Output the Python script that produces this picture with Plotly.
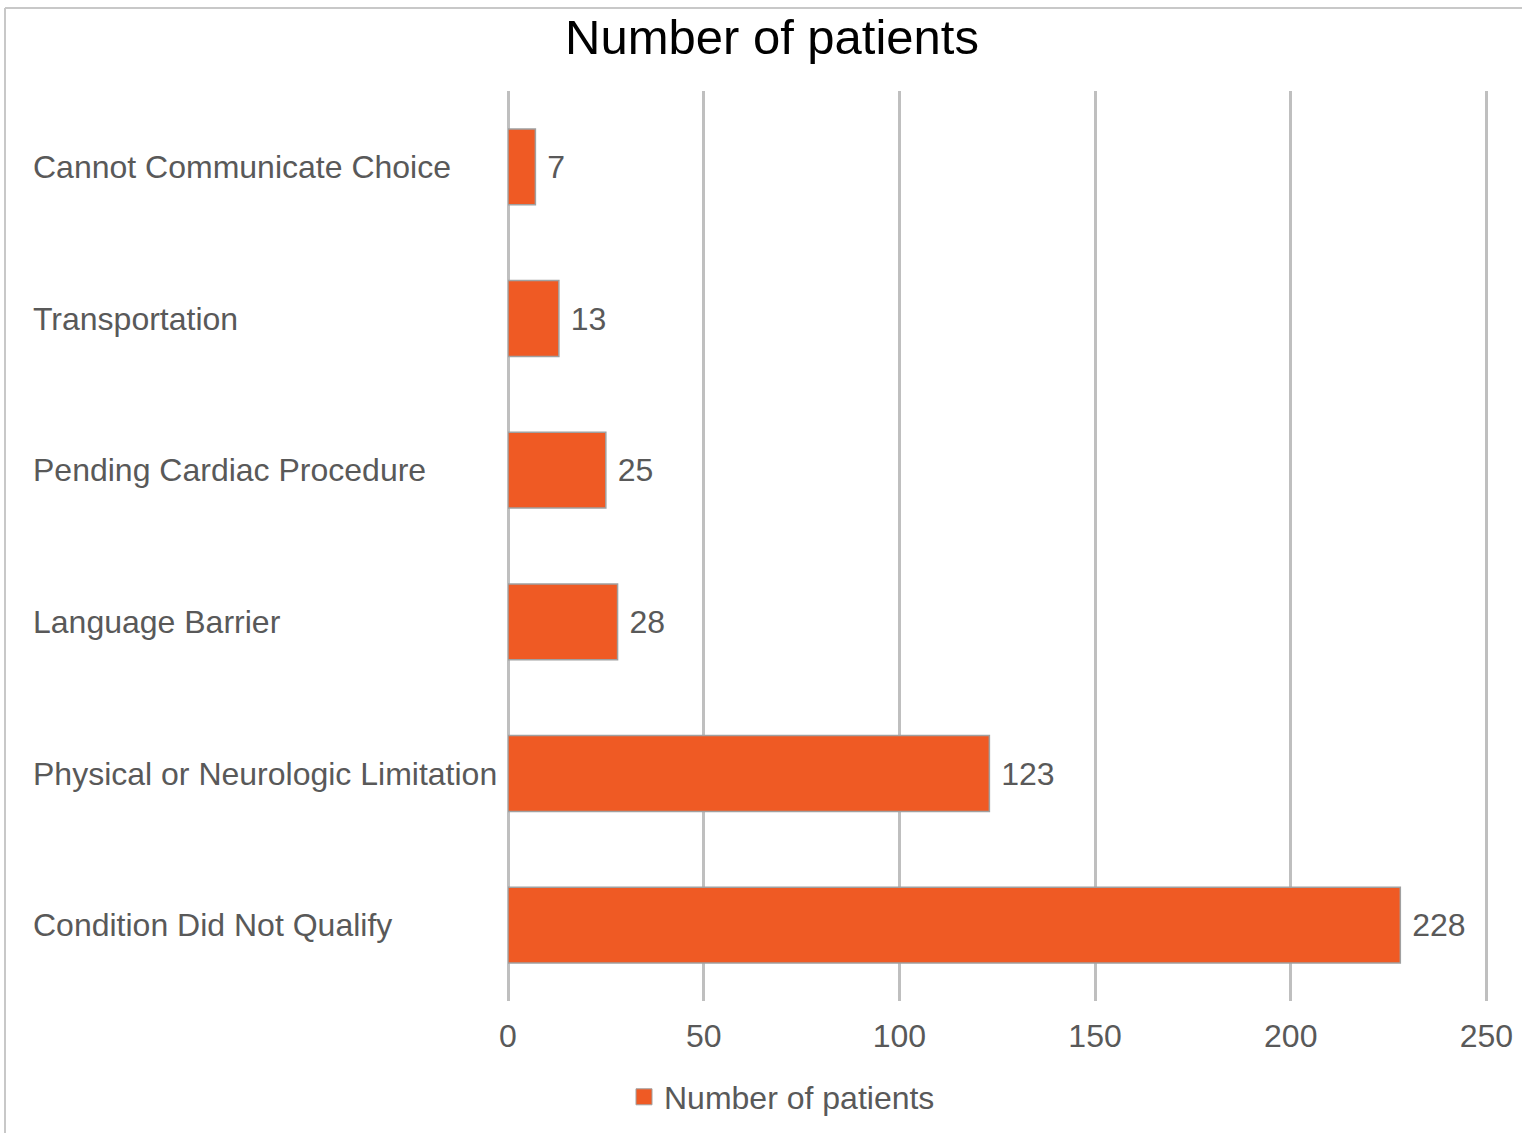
import plotly.graph_objects as go

# Reasons patients were not enrolled, listed top to bottom
categories = [
    "Cannot Communicate Choice",
    "Transportation",
    "Pending Cardiac Procedure",
    "Language Barrier",
    "Physical or Neurologic Limitation",
    "Condition Did Not Qualify",
]
patients = [7, 13, 25, 28, 123, 228]
x_ticks = [0, 50, 100, 150, 200, 250]

W, H = 1524, 1133
L, R, T, B = 508, 36, 91, 132
plot_w = W - L - R
plot_h = H - T - B

BAR = "#EF5A24"
LABEL = "#595959"
GRID = "#BFBFBF"
FONT = "Liberation Sans, Arial, sans-serif"
FS = 32

fig = go.Figure()
fig.add_trace(go.Bar(
    y=categories,
    x=patients,
    orientation="h",
    name="Number of patients",
    width=0.5,
    marker=dict(color=BAR, line=dict(color="#A0A0A0", width=1.5)),
    text=[" " + str(v) for v in patients],
    textposition="outside",
    textfont=dict(family=FONT, size=FS, color=LABEL),
    cliponaxis=False,
    showlegend=False,
))

# Legend entry with a square swatch
fig.add_trace(go.Scatter(
    x=[None], y=[None], mode="markers",
    name="Number of patients",
    marker=dict(symbol="square", size=19, color=BAR,
                line=dict(color="#A0A0A0", width=1)),
    showlegend=True,
))

# Left-aligned category labels
for c in categories:
    fig.add_annotation(
        x=(31 - L) / plot_w, xref="paper", xanchor="left",
        y=c, yref="y", yanchor="middle",
        text=c, showarrow=False,
        font=dict(family=FONT, size=FS, color=LABEL),
    )


def px_to_paper_x(px):
    return (px - L) / plot_w


def px_to_paper_y(py):
    return (H - B - py) / plot_h


# Chart-area frame (top and left edges)
frame = dict(type="line", xref="paper", yref="paper",
             line=dict(color="#C8C8C8", width=2), layer="below")
fig.add_shape(**frame, x0=px_to_paper_x(5), x1=px_to_paper_x(1522),
              y0=px_to_paper_y(8), y1=px_to_paper_y(8))
fig.add_shape(**frame, x0=px_to_paper_x(5), x1=px_to_paper_x(5),
              y0=px_to_paper_y(8), y1=px_to_paper_y(1140))

fig.update_layout(
    width=W, height=H,
    margin=dict(l=L, r=R, t=T, b=B, pad=0),
    paper_bgcolor="white",
    plot_bgcolor="white",
    font=dict(family=FONT, size=FS, color=LABEL),
    title=dict(
        text="Number of patients",
        x=772 / W, xanchor="center", xref="container",
        y=1 - 37 / H, yanchor="middle", yref="container",
        font=dict(family=FONT, size=49, color="#000000"),
    ),
    xaxis=dict(
        range=[0, 250.4],
        tickvals=x_ticks,
        ticktext=[str(v) for v in x_ticks],
        showgrid=True, gridcolor=GRID, gridwidth=3,
        zeroline=True, zerolinecolor=GRID, zerolinewidth=3,
        showline=False,
        ticks="outside", ticklen=7, tickcolor="rgba(0,0,0,0)",
        tickfont=dict(family=FONT, size=FS, color=LABEL),
    ),
    yaxis=dict(
        categoryorder="array",
        categoryarray=categories,
        autorange="reversed",
        showticklabels=False,
        showgrid=False, zeroline=False, showline=False,
    ),
    showlegend=True,
    legend=dict(
        orientation="h",
        x=782 / W, xanchor="center", xref="container",
        y=1 - 1097 / H, yanchor="middle", yref="container",
        font=dict(family=FONT, size=FS, color=LABEL),
        itemwidth=30,
    ),
)

fig.write_html("out.html")
